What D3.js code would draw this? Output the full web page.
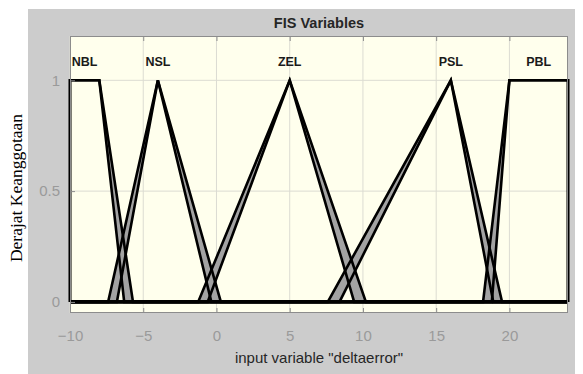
<!DOCTYPE html>
<html>
<head>
<meta charset="utf-8">
<script src="https://cdn.jsdelivr.net/npm/d3@7"></script>
<style>
  body { margin: 0; background: #fff; }
  svg { display: block; }
</style>
</head>
<body>
<svg width="583" height="374"></svg>
<script>
// membership functions, two overlaid versions of the same variable
const mfNames = ["NBL", "NSL", "ZEL", "PSL", "PBL"];
const mfTypes = ["trap", "tri", "tri", "tri", "trap"];
const mfParamsA = [[-10, -10, -8, -6.3], [-7.4, -4, -0.35], [-1.25, 5, 9.4], [7.6, 16, 18.9], [18.2, 20, 24, 24]];
const mfParamsB = [[-10, -10, -8, -5.7], [-6.8, -4, 0.3], [-0.6, 5, 10.2], [8.4, 16, 19.5], [18.8, 20, 24, 24]];
const xTicks = [-10, -5, 0, 5, 10, 15, 20];
const yTicks = [0, 0.5, 1];
const xRange = [-10, 24];
const yRange = [-0.05, 1.2];

const svg = d3.select('svg');

// gray figure panel
svg.append('rect')
  .attr('x', 28).attr('y', 9)
  .attr('width', 547).attr('height', 365)
  .attr('fill', '#cccccc');

const pLeft = 70, pRight = 568, pTop = 36, pBottom = 313;

const x = d3.scaleLinear().domain(xRange).range([pLeft, pRight]);
const y = d3.scaleLinear().domain(yRange).range([pBottom, pTop]);

svg.append('rect')
  .attr('x', pLeft).attr('y', pTop)
  .attr('width', pRight - pLeft).attr('height', pBottom - pTop)
  .attr('fill', '#ffffed');

// grid
svg.append('g').selectAll('line')
  .data(xTicks)
  .enter().append('line')
  .attr('x1', d => x(d)).attr('x2', d => x(d))
  .attr('y1', pTop).attr('y2', pBottom)
  .attr('stroke', '#dcdcd2').attr('stroke-width', 1);

svg.append('g').selectAll('line')
  .data(yTicks)
  .enter().append('line')
  .attr('x1', pLeft).attr('x2', pRight)
  .attr('y1', d => y(d)).attr('y2', d => y(d))
  .attr('stroke', '#dcdcd2').attr('stroke-width', 1);

// points of a membership function across the whole range
const mfPoints = (type, p) => {
  if (type === "tri") {
    return [[xRange[0], 0], [p[0], 0], [p[1], 1], [p[2], 0], [xRange[1], 0]];
  }
  return [[xRange[0], 0], [p[0], 0], [p[1], 1], [p[2], 1], [p[3], 0], [xRange[1], 0]]
    .filter(d => d[0] >= xRange[0] && d[0] <= xRange[1]);
};

const line = d3.line().x(d => x(d[0])).y(d => y(d[1]));

const mfs = mfNames.map((name, i) => ({
  name: name,
  a: mfPoints(mfTypes[i], mfParamsA[i]),
  b: mfPoints(mfTypes[i], mfParamsB[i]),
  center: mfTypes[i] === "tri" ? mfParamsA[i][1] : (mfParamsA[i][1] + mfParamsA[i][2]) / 2
}));

const plot = svg.append('g');

// gray band between the two versions
plot.selectAll('.band')
  .data(mfs)
  .enter().append('path')
  .classed('band', true)
  .attr('d', d => line(d.a.concat(d.b.slice().reverse())) + 'Z')
  .attr('fill', '#a3a3a3')
  .attr('stroke', 'none');

plot.selectAll('.mfa')
  .data(mfs)
  .enter().append('path')
  .classed('mfa', true)
  .attr('d', d => line(d.a))
  .attr('fill', 'none')
  .attr('stroke', '#000')
  .attr('stroke-width', 2.6)
  .attr('stroke-linejoin', 'miter');

plot.selectAll('.mfb')
  .data(mfs)
  .enter().append('path')
  .classed('mfb', true)
  .attr('d', d => line(d.b))
  .attr('fill', 'none')
  .attr('stroke', '#000')
  .attr('stroke-width', 2.6)
  .attr('stroke-linejoin', 'miter');

plot.selectAll('.lbl')
  .data(mfs)
  .enter().append('text')
  .classed('lbl', true)
  .attr('x', d => x(d.center))
  .attr('y', y(1.065))
  .attr('text-anchor', 'middle')
  .attr('font-family', 'Liberation Sans, Arial, sans-serif')
  .attr('font-size', 12.5)
  .attr('font-weight', 'bold')
  .attr('fill', '#1a1a1a')
  .text(d => d.name);

// axes box
svg.append('rect')
  .attr('x', pLeft + 0.5).attr('y', pTop + 0.5)
  .attr('width', pRight - pLeft - 1).attr('height', pBottom - pTop - 1)
  .attr('fill', 'none')
  .attr('stroke', '#8c8c8c');

const xAxisB = d3.axisBottom(x).tickValues(xTicks).tickSize(-5).tickPadding(17).tickFormat(d3.format('d'));
const xAxisT = d3.axisTop(x).tickValues(xTicks).tickSize(-5).tickFormat('');
const yAxis = d3.axisLeft(y).tickValues(yTicks).tickSize(-5).tickPadding(10).tickFormat(d => d);

const styleAxis = g => {
  g.select('.domain').remove();
  g.selectAll('line').attr('stroke', '#8c8c8c');
  g.selectAll('text')
    .attr('fill', '#9a9a9a')
    .attr('font-family', 'Liberation Sans, Arial, sans-serif')
    .attr('font-size', 15);
};

svg.append('g').attr('transform', `translate(0,${pBottom})`).call(xAxisB).call(styleAxis);
svg.append('g').attr('transform', `translate(0,${pTop})`).call(xAxisT).call(styleAxis);
svg.append('g').attr('transform', `translate(${pLeft},0)`).call(yAxis).call(styleAxis);

// texts
svg.append('text')
  .attr('x', (pLeft + pRight) / 2).attr('y', 28)
  .attr('text-anchor', 'middle')
  .attr('font-family', 'Liberation Sans, Arial, sans-serif')
  .attr('font-size', 14.5)
  .attr('font-weight', 'bold')
  .attr('fill', '#262626')
  .text('FIS Variables');

svg.append('text')
  .attr('x', (pLeft + pRight) / 2).attr('y', 363)
  .attr('text-anchor', 'middle')
  .attr('font-family', 'Liberation Sans, Arial, sans-serif')
  .attr('font-size', 15)
  .attr('fill', '#262626')
  .text('input variable "deltaerror"');

svg.append('text')
  .attr('transform', 'translate(22,188) rotate(-90)')
  .attr('text-anchor', 'middle')
  .attr('font-family', 'Liberation Serif, Times New Roman, serif')
  .attr('font-size', 17.5)
  .attr('fill', '#000')
  .text('Derajat Keanggotaan');
</script>
</body>
</html>
